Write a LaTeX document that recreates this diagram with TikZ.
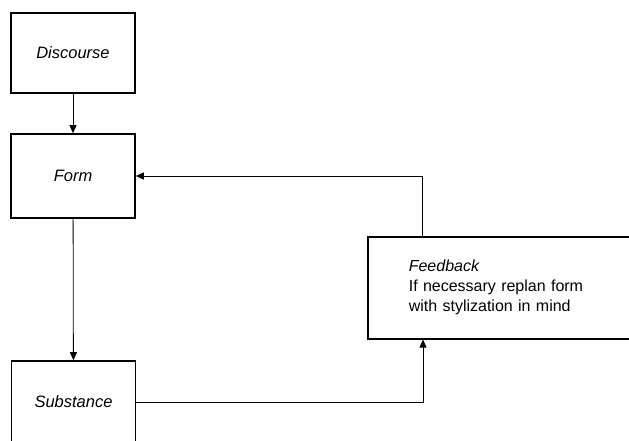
\documentclass[tikz,border=0pt]{standalone}
\usepackage{fontspec}
\setmainfont{Liberation Sans}
\usepackage{tikz}
\usetikzlibrary{arrows.meta, positioning}
\tikzstyle{block} = [rectangle, draw=black, line width=1.6pt, minimum width=124pt, text centered, font=\fontsize{16.5}{19}\selectfont\itshape]
\tikzstyle{flow} = [line width=0.8pt, -{Triangle[length=8pt,width=7pt]}]

\begin{document}
\begin{tikzpicture}[x=1pt, y=-1pt]
    \useasboundingbox (0,0) rectangle (629,440);
    \clip (0,0) rectangle (629,440);
    % Stages
    \node[block, minimum height=80pt] (discourse) at (73,53) {Discourse};
    \node[block, minimum height=84pt] (form) at (73,176) {Form};
    \node[block, minimum height=82pt] (substance) at (73.5,402) {Substance};

    % Feedback box
    \node[rectangle, draw=black, line width=1.6pt, anchor=north west, text width=230pt, inner xsep=41pt, minimum height=102pt, align=left, font=\fontsize{16}{20}\selectfont] (feedback) at (367,236) {\textit{Feedback}\\If necessary replan form\\with stylization in mind};
    \coordinate (fbin) at ([xshift=56pt]feedback.south west);
    \coordinate (fbout) at ([xshift=55pt]feedback.north west);

    % Connectors
    \draw[flow] (discourse) -- (form);
    \draw[flow] (form) -- (substance);
    \draw[flow] (substance.east) -| (fbin);
    \draw[flow] (fbout) |- (form.east);
\end{tikzpicture}
\end{document}
